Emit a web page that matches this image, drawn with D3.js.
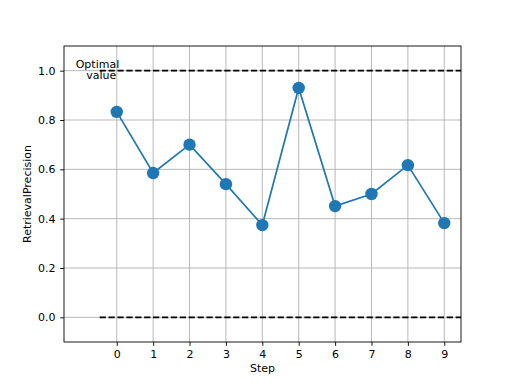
<!DOCTYPE html>
<html>
<head>
<meta charset="utf-8">
<script src="https://cdn.jsdelivr.net/npm/d3@7"></script>
<style>
  body { margin: 0; background: #fff; }
  svg text { font-family: "DejaVu Sans", sans-serif; fill: #000; }
</style>
</head>
<body>
<div id="chart"></div>
<script>
// values
const steps = [0, 1, 2, 3, 4, 5, 6, 7, 8, 9];
const precision = [0.833, 0.585, 0.70, 0.54, 0.374, 0.93, 0.451, 0.50, 0.617, 0.382];
const refLines = [1.0, 0.0];
const yTicks = [0.0, 0.2, 0.4, 0.6, 0.8, 1.0];

const W = 512, H = 384;
const margin = { top: 46, right: 51, bottom: 42, left: 64 };
const width = W - margin.left - margin.right,
      height = H - margin.top - margin.bottom;

const svg = d3.select("#chart")
  .append("svg")
    .attr("width", W)
    .attr("height", H);

const g = svg.append("g")
    .attr("transform", `translate(${margin.left},${margin.top})`);

const x = d3.scaleLinear().domain([-1.45, 9.46]).range([0, width]);
const y = d3.scaleLinear().domain([-0.1, 1.1]).range([height, 0]);

// grid
g.append("g")
  .selectAll("line")
  .data(steps)
  .join("line")
    .attr("x1", d => x(d)).attr("x2", d => x(d))
    .attr("y1", 0).attr("y2", height)
    .attr("stroke", "#b0b0b0").attr("stroke-width", 0.9);

g.append("g")
  .selectAll("line")
  .data(yTicks)
  .join("line")
    .attr("x1", 0).attr("x2", width)
    .attr("y1", d => y(d)).attr("y2", d => y(d))
    .attr("stroke", "#b0b0b0").attr("stroke-width", 0.9);

// dashed reference lines
g.append("g")
  .selectAll("line")
  .data(refLines)
  .join("line")
    .attr("x1", x(-0.47)).attr("x2", width)
    .attr("y1", d => y(d)).attr("y2", d => y(d))
    .attr("stroke", "#000").attr("stroke-width", 1.7)
    .attr("stroke-dasharray", "6.2,2.7");

// label next to the top line
const tx = x(-0.53);
g.append("text")
    .attr("x", tx)
    .attr("y", y(1.0) - 2.7)
    .attr("text-anchor", "middle")
    .style("font-size", "11px")
    .text("Optimal");
g.append("text")
    .attr("x", tx + 3.7)
    .attr("y", y(1.0) + 8)
    .attr("text-anchor", "middle")
    .style("font-size", "11px")
    .text("value");

// series
const line = d3.line()
  .x((d, i) => x(steps[i]))
  .y(d => y(d));

g.append("path")
  .datum(precision)
  .attr("fill", "none")
  .attr("stroke", "#1f77b4")
  .attr("stroke-width", 1.7)
  .attr("d", line);

g.append("g")
  .selectAll("circle")
  .data(precision)
  .join("circle")
    .attr("cx", (d, i) => x(steps[i]))
    .attr("cy", d => y(d))
    .attr("r", 6.2)
    .attr("fill", "#1f77b4");

// axes
const xAxis = g.append("g")
  .attr("transform", `translate(0,${height})`)
  .call(d3.axisBottom(x).tickValues(steps).tickFormat(d3.format("d")).tickSize(3.9).tickPadding(4.5));

const yAxis = g.append("g")
  .call(d3.axisLeft(y).tickValues(yTicks).tickFormat(d3.format(".1f")).tickSize(3.9).tickPadding(4.5));

[xAxis, yAxis].forEach(a => {
  a.select(".domain").remove();
  a.selectAll(".tick line").attr("stroke", "#000").attr("stroke-width", 0.9);
  a.selectAll(".tick text").style("font-size", "11px").style("font-family", "DejaVu Sans, sans-serif");
});

// frame
g.append("rect")
  .attr("width", width).attr("height", height)
  .attr("fill", "none").attr("stroke", "#000").attr("stroke-width", 0.9);

svg.append("text")
  .attr("x", margin.left + width / 2)
  .attr("y", 372)
  .attr("text-anchor", "middle")
  .style("font-size", "11px")
  .text("Step");

svg.append("text")
  .attr("transform", `translate(30.7,${margin.top + height / 2}) rotate(-90)`)
  .attr("text-anchor", "middle")
  .style("font-size", "11px")
  .text("RetrievalPrecision");
</script>
</body>
</html>
